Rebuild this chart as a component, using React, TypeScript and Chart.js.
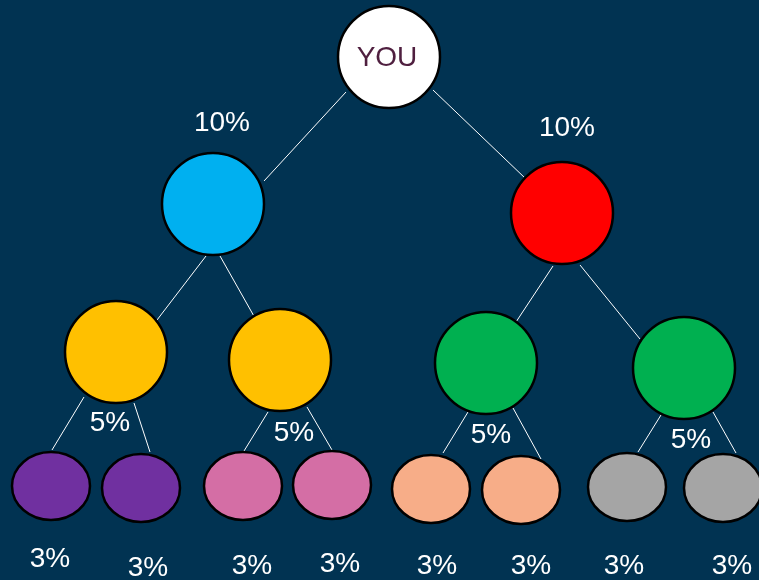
import React, { useEffect, useRef } from "react";
import { Chart, registerables } from "chart.js";

Chart.register(...registerables);

// ---- data ----
const BG = "#013352";

// upper nodes (circles)
const circleNames = ["YOU", "L1", "R1", "LL", "LR", "RL", "RR"];
const circleX = [389, 213, 562, 116, 280, 486, 684];
const circleY = [57, 204, 213, 352, 360, 363, 368];
const circleColors = ["#FFFFFF", "#00B0F0", "#FF0000", "#FFC000", "#FFC000", "#00B050", "#00B050"];
const circleRadius = 51;

// bottom nodes (ellipses)
const ellipseX = [51, 141, 243, 332, 431, 521, 627, 723];
const ellipseY = [486, 488, 486, 485, 489, 490, 487, 488];
const ellipseColors = ["#7030A0", "#7030A0", "#D46EA5", "#D46EA5", "#F7AD88", "#F7AD88", "#A5A5A5", "#A5A5A5"];
const ellipseRx = 39;
const ellipseRy = 34;

// connector segments
const linkX1 = [346, 433, 206, 220, 553, 580, 84, 134, 268, 307, 468, 513, 661, 713];
const linkY1 = [92, 90, 256, 256, 266, 265, 397, 403, 412, 407, 412, 408, 415, 412];
const linkX2 = [264, 526, 157, 255, 516, 640, 52, 150, 244, 332, 443, 541, 638, 736];
const linkY2 = [181, 179, 320, 318, 322, 339, 450, 452, 451, 450, 453, 459, 452, 453];

// percentage labels
const pctLabels = ["10%", "10%", "5%", "5%", "5%", "5%", "3%", "3%", "3%", "3%", "3%", "3%", "3%", "3%"];
const pctX = [222, 567, 110, 294, 491, 691, 50, 148, 252, 340, 437, 531, 624, 732];
const pctY = [123, 128, 423, 433, 435, 440, 559, 568, 566, 564, 566, 566, 566, 566];

const centerLabel = "YOU";

function makeEllipse(color: string): HTMLCanvasElement {
  const c = document.createElement("canvas");
  const pad = 3;
  c.width = ellipseRx * 2 + pad * 2;
  c.height = ellipseRy * 2 + pad * 2;
  const g = c.getContext("2d")!;
  g.beginPath();
  g.ellipse(c.width / 2, c.height / 2, ellipseRx, ellipseRy, 0, 0, Math.PI * 2);
  g.fillStyle = color;
  g.fill();
  g.lineWidth = 2.5;
  g.strokeStyle = "#000000";
  g.stroke();
  return c;
}

export default function App() {
  const ref = useRef<HTMLCanvasElement | null>(null);

  useEffect(() => {
    document.body.style.margin = "0";
    document.documentElement.style.overflow = "hidden";
    if (!ref.current) return;

    const linkSets = linkX1.map((_, i) => ({
      type: "line" as const,
      data: [
        { x: linkX1[i], y: linkY1[i] },
        { x: linkX2[i], y: linkY2[i] },
      ],
      showLine: true,
      borderColor: "#FFFFFF",
      borderWidth: 1,
      pointRadius: 0,
      clip: false as any,
      order: 10,
    }));

    const circleSet = {
      type: "scatter" as const,
      data: circleX.map((x, i) => ({ x, y: circleY[i], name: circleNames[i] })),
      pointRadius: circleRadius,
      pointHoverRadius: circleRadius,
      backgroundColor: circleColors,
      borderColor: "#000000",
      borderWidth: 2.5,
      clip: false as any,
      order: 1,
    };

    const ellipseStyles = ellipseColors.map((c) => makeEllipse(c));
    const ellipseSet = {
      type: "scatter" as const,
      data: ellipseX.map((x, i) => ({ x, y: ellipseY[i] })),
      pointStyle: ellipseStyles,
      pointRadius: ellipseRx,
      clip: false as any,
      order: 1,
    };

    const labelPlugin = {
      id: "labels",
      afterDatasetsDraw(chart: any) {
        const { ctx, scales } = chart;
        ctx.save();
        ctx.textAlign = "center";
        ctx.textBaseline = "middle";
        ctx.font = "28px 'Liberation Sans', Arial, sans-serif";
        ctx.fillStyle = "#FFFFFF";
        pctLabels.forEach((t, i) => {
          ctx.fillText(t, scales.x.getPixelForValue(pctX[i]), scales.y.getPixelForValue(pctY[i]));
        });
        ctx.fillStyle = "#4F1F3F";
        ctx.fillText(
          centerLabel,
          scales.x.getPixelForValue(circleX[0]) - 2,
          scales.y.getPixelForValue(circleY[0]) + 1
        );
        ctx.restore();
      },
    };

    const chart = new Chart(ref.current, {
      type: "scatter",
      data: { datasets: [circleSet, ellipseSet, ...linkSets] as any },
      options: {
        responsive: false,
        maintainAspectRatio: false,
        animation: false,
        layout: { padding: 0, autoPadding: false },
        plugins: { legend: { display: false }, tooltip: { enabled: false } },
        events: [],
        scales: {
          x: { type: "linear", min: 0, max: 759, display: false },
          y: { type: "linear", min: 0, max: 580, reverse: true, display: false },
        },
      },
      plugins: [labelPlugin],
    });
    return () => chart.destroy();
  }, []);

  return (
    <div style={{ width: 759, height: 580, background: BG }}>
      <canvas ref={ref} width={759} height={580} style={{ display: "block" }} />
    </div>
  );
}
